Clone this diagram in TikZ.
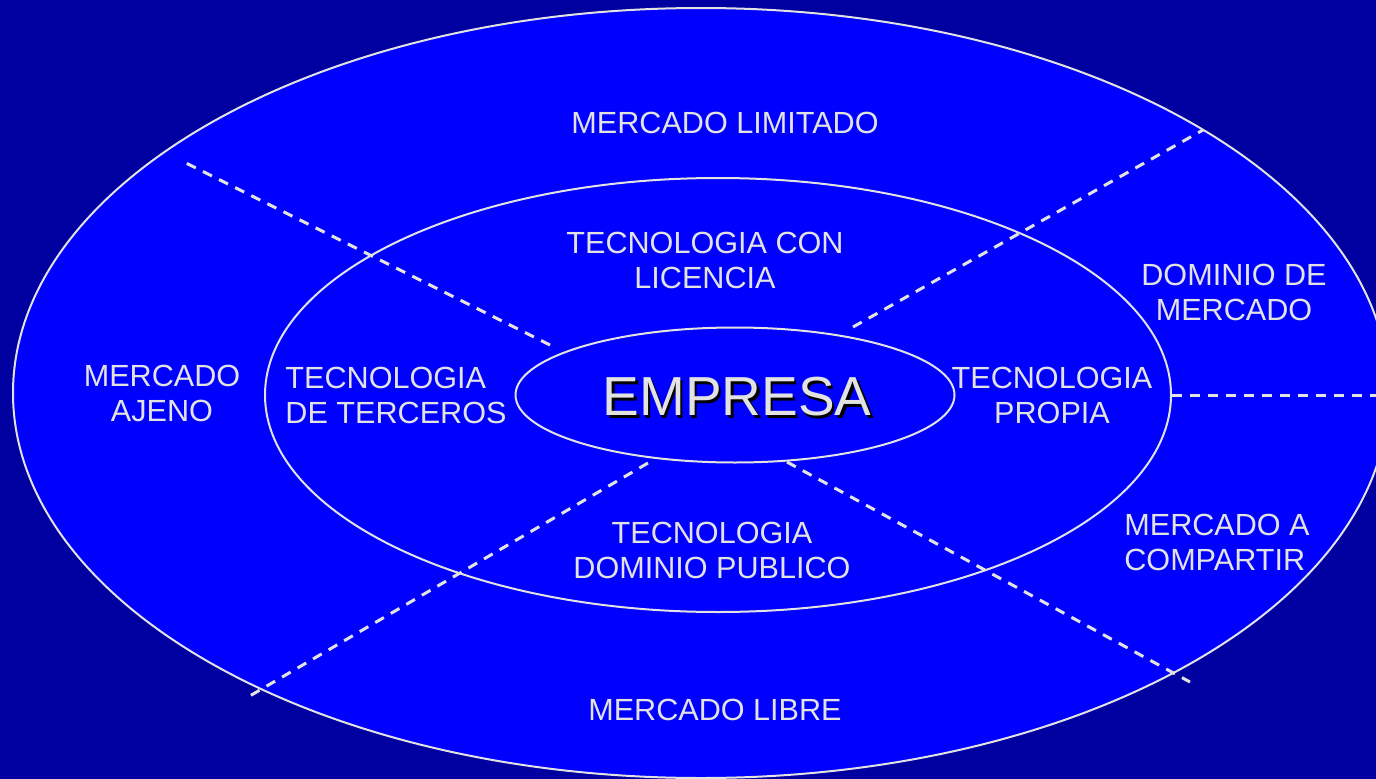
\documentclass[tikz,border=0pt]{standalone}
\usepackage{fontspec}
\setmainfont{Liberation Sans}
\usetikzlibrary{shapes.geometric}
\definecolor{bgdark}{HTML}{0000A0}
\definecolor{bgblue}{HTML}{0000FF}
\definecolor{txtgray}{HTML}{E2E2E2}
\tikzset{
  ring/.style={ellipse, draw=txtgray, line width=2pt, inner sep=0pt},
  divider/.style={draw=txtgray, line width=3pt, dash pattern=on 10pt off 8pt},
  lbl/.style={text=txtgray, font=\fontsize{30.6}{35}\selectfont, align=center, inner sep=0pt},
  lbll/.style={lbl, align=left},
  big/.style={font=\fontsize{55}{60}\selectfont, inner sep=0pt}
}
\begin{document}
\begin{tikzpicture}[x=1pt,y=-1pt]
\useasboundingbox (0,0) rectangle (1376,779);
\clip (0,0) rectangle (1376,779);
\fill[bgdark] (0,0) rectangle (1376,779);
\node[ring, fill=bgblue, minimum width=1376pt, minimum height=770pt] (outer) at (701,393) {};
\node[ring, minimum width=906pt, minimum height=434pt] (middle) at (718,395) {};
\node[ring, minimum width=439pt, minimum height=135pt] (inner) at (735,395) {};
% dividers
\coordinate (a1) at (550,345); \coordinate (a2) at (180,160);
\coordinate (b1) at (853,327); \coordinate (b2) at (1203,130);
\coordinate (c1) at (1172,395); \coordinate (c2) at (1380,395);
\coordinate (d1) at (648,463); \coordinate (d2) at (248,697);
\coordinate (e1) at (787,462); \coordinate (e2) at (1190,682);
\draw[divider] (a1) -- (a2);
\draw[divider] (b1) -- (b2);
\draw[divider] (c1) -- (c2);
\draw[divider] (d1) -- (d2);
\draw[divider] (e1) -- (e2);
% labels
\node[lbl] (mlim) at (725,123) {MERCADO LIMITADO};
\node[lbl] (tlic) at (705,260) {TECNOLOGIA CON\\LICENCIA};
\node[lbl] (dmer) at (1234,292) {DOMINIO DE\\MERCADO};
\node[lbl] (maje) at (162,393) {MERCADO\\AJENO};
\node[lbll] (tter) at (396,395) {TECNOLOGIA\\DE TERCEROS};
\node[lbl] (tpro) at (1052,395) {TECNOLOGIA\\PROPIA};
\node[lbl] (tdom) at (712,550) {TECNOLOGIA\\DOMINIO PUBLICO};
\node[lbll] (mcom) at (1217,542) {MERCADO A\\COMPARTIR};
\node[lbl] (mlib) at (715,710) {MERCADO LIBRE};
\node[big, text=black] (empsh) at (739.5,399.5) {EMPRESA};
\node[big, text=txtgray] (emp) at (737,397) {EMPRESA};
\end{tikzpicture}
\end{document}
